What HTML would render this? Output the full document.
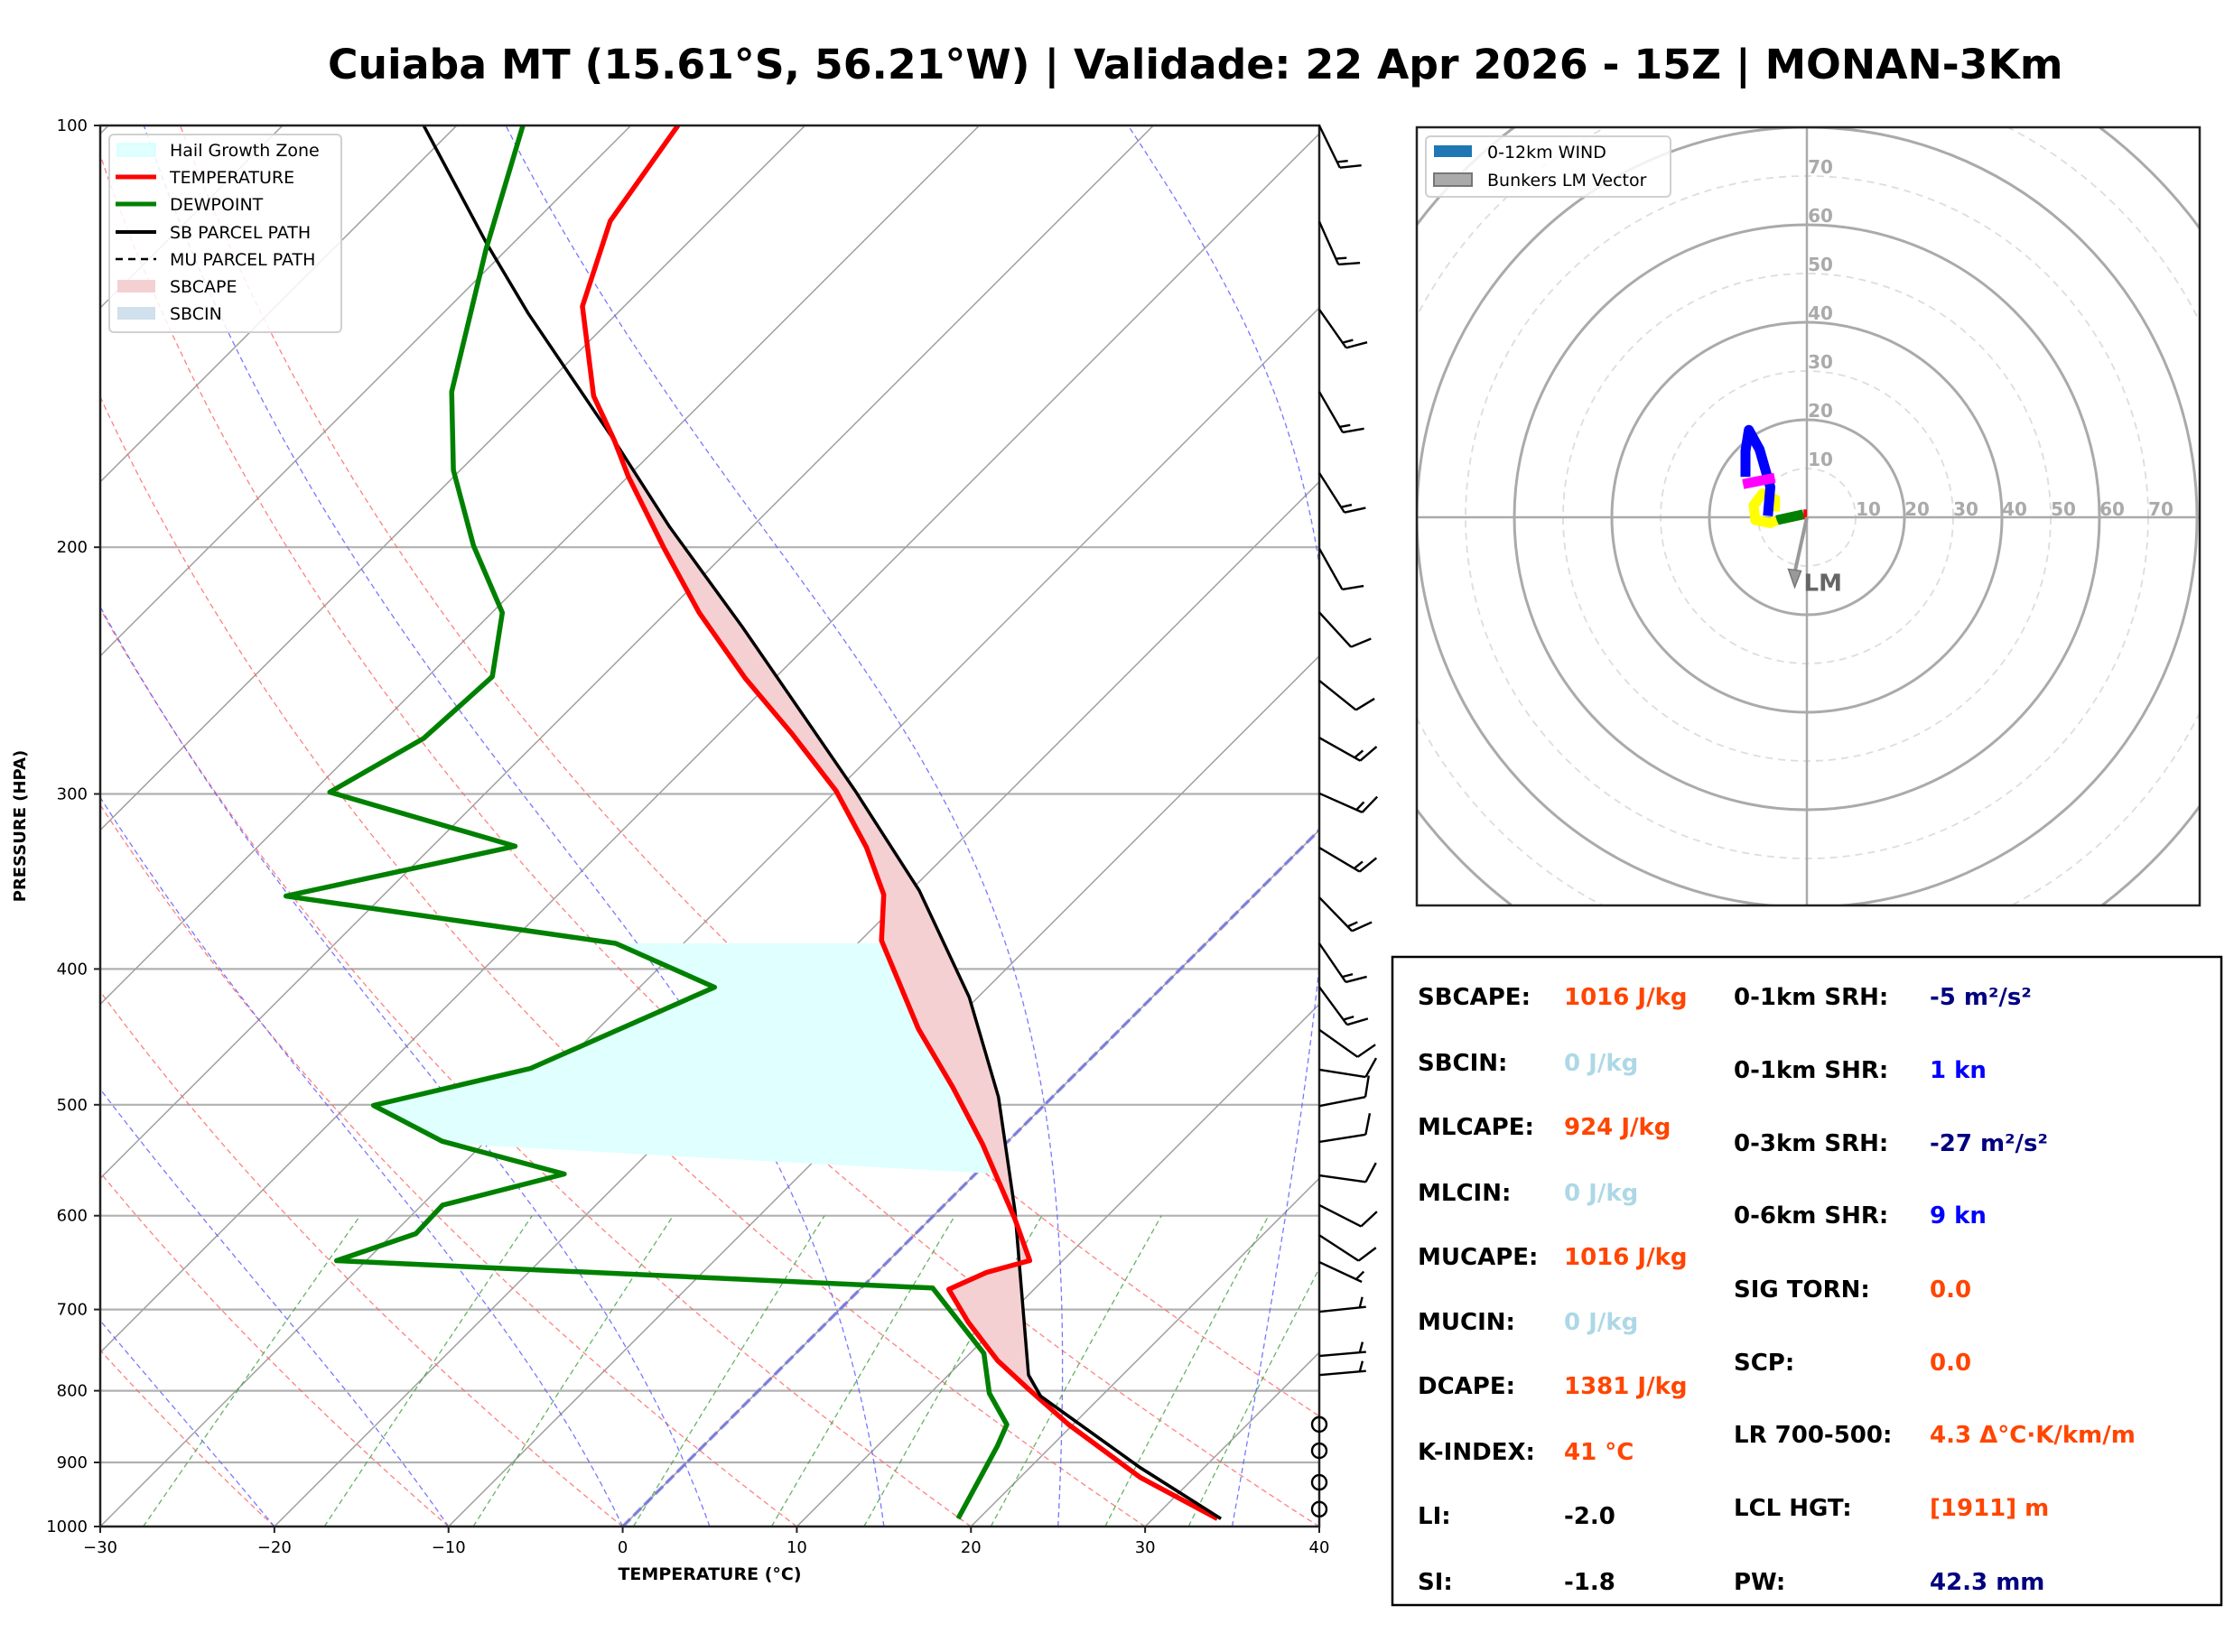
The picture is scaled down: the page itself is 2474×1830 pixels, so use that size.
<!DOCTYPE html>
<html><head><meta charset="utf-8"><style>
html,body{margin:0;padding:0;background:#fff;}
svg{display:block;font-family:"DejaVu Sans","Liberation Sans",sans-serif;}
</style></head><body>
<svg id="root" xmlns="http://www.w3.org/2000/svg" width="2474" height="1830" viewBox="0 0 2474 1830">
<rect x="0" y="0" width="2474" height="1830" fill="#fff"/>
<text x="363" y="87" font-size="45.7" font-weight="bold" fill="#000">Cuiaba MT (15.61°S, 56.21°W) | Validade: 22 Apr 2026 - 15Z | MONAN-3Km</text>
<defs>
<clipPath id="skewclip"><rect x="111" y="139" width="1350" height="1552"/></clipPath>
<clipPath id="hodoclip"><rect x="1569" y="141" width="867" height="862"/></clipPath>
</defs>
<g id="skewt">
<g id="bg" clip-path="url(#skewclip)"></g>
<g id="fills" clip-path="url(#skewclip)"></g>
<g id="profiles" clip-path="url(#skewclip)"></g>
<g id="axes"></g>
<g id="barbs"></g>
</g>
<g id="hodo"></g>
<g id="legend"></g>
<g id="stats"></g>
</svg>
<script>
// ===== Data =====
const tempP = [100,117,134.6,156,168,178,200.4,222.7,248,271.8,298.5,327.6,354,381.7,441.4,485.6,533.4,602.5,645.9,658.6,677.2,714.7,761.3,797.7,845.7,922.5,987.2];
const tempT = [-77.3,-75.7,-72.4,-66.6,-62.8,-60,-53.8,-48.1,-41.7,-35.8,-30,-25,-21.3,-18.8,-11.6,-6.3,-1.3,4.8,8.1,6.3,5.1,8.1,12,15.4,19.75,26.9,33.7];
const dewP = [100,122.6,154.9,176.2,199.5,222.7,247.4,273.7,299.1,326.9,354.8,383.5,412.2,471,500.5,530.9,560.3,589.7,618,646,675.7,752.4,803.3,845.7,876.4,987];
const dewT = [-86.2,-81.2,-75,-70.4,-64.9,-59.4,-56.3,-56.7,-59,-45.25,-55.55,-33.9,-25.7,-31.6,-38.5,-32.5,-23.6,-28.8,-28.7,-31.7,4.1,10.8,13.4,16.2,16.9,18.8];
const parcelP = [100,121.2,136.2,168,193.5,228,262.4,298.5,351.6,419,493.6,595.3,779.5,807,907.4,987.2];
const parcelT = [-91.9,-81.6,-75.1,-62.8,-54.7,-44.8,-36.5,-28.9,-19.5,-10.5,-3.1,4.4,14.6,16.5,26.3,33.9];
const barbP = [100,117.1,135.3,154.9,177,200.4,222.6,249,273.5,299.7,327.7,355.6,383.5,412,442,472,501,531.5,561.6,589.6,619.5,647.5,702.6,755.6,779.6];
const barbAng = [64,66,55,60,57.5,60.7,47.5,38.7,29.4,23.9,30.7,45.8,55.6,53.6,35.4,9,-11,-9,8,27,33,25,-6,-5,-5];
const barbSpd = [15,15,15,15,15,10,10,10,15,15,15,15,15,15,10,10,10,10,10,10,10,5,5,5,5];
const calmP = [845.5,882.9,930,972];
const pTicks = [100,200,300,400,500,600,700,800,900,1000];
const tTicks = [-30,-20,-10,0,10,20,30,40];
// hodograph (kt)
const hodoRedU=[0,-0.7], hodoRedV=[0.6,0.6];
const hodoGreenU=[-0.7,-6.2], hodoGreenV=[0.6,-0.6];
const hodoYellowU=[-6.2,-7.5,-10.6,-10.9,-9.1,-6.5,-6.6], hodoYellowV=[-0.6,-1.2,-0.6,2.5,4.9,3.7,1.2];
const hodoBlueU=[-8.0,-7.5,-9.7,-11.9,-12.6,-12.6], hodoBlueV=[0.3,6.2,13.9,17.9,13.6,8.3];
const hodoMagU=[-13.1,-6.6], hodoMagV=[6.8,8.1];
const lmU=-2.5, lmV=-13.6;
const ringKt=[10,20,30,40,50,60,70,80,90,100];

// ===== Axes functions =====
const X0=111, X1=1461, YB=1691, YT=139, SPAN=YB-YT, PPD=(X1-X0)/70;
function yP(p){return YB-SPAN*Math.log10(1000/p);}
function xTP(T,p){return X0+(T+30)*PPD+(YB-yP(p));}
const NS='http://www.w3.org/2000/svg';
function mk(tag,attrs,parent){const e=document.createElementNS(NS,tag);for(const k in attrs)e.setAttribute(k,attrs[k]);parent.appendChild(e);return e;}
function ptsStr(Ts,Ps){return Ts.map((t,i)=>xTP(t,Ps[i]).toFixed(1)+','+yP(Ps[i]).toFixed(1)).join(' ');}
function interp(P,T,p){for(let i=0;i<P.length-1;i++){if(p>=P[i]&&p<=P[i+1]){const f=Math.log(p/P[i])/Math.log(P[i+1]/P[i]);return T[i]+f*(T[i+1]-T[i]);}}return p<P[0]?T[0]:T[T.length-1];}

const bg=document.getElementById('bg');
pTicks.forEach(p=>{const l=mk('line',{x1:X0,x2:X1,y1:yP(p),y2:yP(p),stroke:'#b0b0b0','stroke-width':2.2},bg);

});
for(let T=-150;T<=40;T+=10){const l=mk('line',{x1:xTP(T,1000),y1:yP(1000),x2:xTP(T,100),y2:yP(100),stroke:'#a0a0a0','stroke-width':1.5},bg);

}
for(let th=-30;th<=50;th+=10){let s=[];for(let p=1000;p>=100;p-=10){const T=(th+273.15)*Math.pow(p/1000,0.286)-273.15;s.push(xTP(T,p).toFixed(1)+','+yP(p).toFixed(1));}
const l=mk('polyline',{points:s.join(' '),fill:'none',stroke:'#ff6060','stroke-width':1.3,'stroke-dasharray':'6,4','stroke-opacity':0.8},bg);

}
[-20,-10,0,5,15,25,35].forEach(T0=>{let T=T0,s=[];for(let p=1000;p>=100;p-=2){s.push(xTP(T,p).toFixed(1)+','+yP(p).toFixed(1));const Tk=T+273.15;const es=6.112*Math.exp(17.67*T/(T+243.5));const rs=0.622*es/(p-es);const dTdp=(287*Tk+2.5e6*rs)/(1005+2.5e6*2.5e6*rs*0.622/(287*Tk*Tk))/p;T-=dTdp*2;}
const l=mk('polyline',{points:s.join(' '),fill:'none',stroke:'#6060ff','stroke-width':1.3,'stroke-dasharray':'6,4','stroke-opacity':0.85},bg);

});
[0.0004,0.001,0.002,0.004,0.007,0.01,0.016,0.024,0.032].forEach(w=>{let s=[];for(let p=1000;p>=600;p-=20){const e=w*p/(0.622+w);const L=Math.log(e/6.112);const Td=243.5*L/(17.67-L);s.push(xTP(Td,p).toFixed(1)+','+yP(p).toFixed(1));}
const l=mk('polyline',{points:s.join(' '),fill:'none',stroke:'#40a040','stroke-width':1.3,'stroke-dasharray':'6,4','stroke-opacity':0.8},bg);

});
{const l=mk('line',{x1:xTP(0,1000),y1:yP(1000),x2:xTP(0,100),y2:yP(100),stroke:'#7070e0','stroke-width':3.5,'stroke-dasharray':'12,5','stroke-opacity':0.8},bg);

}

const fills=document.getElementById('fills');
{
 const pTop=383.5,pDewB=533,pTmpB=560;let s=[];
 s.push(xTP(interp(dewP,dewT,pTop),pTop)+','+yP(pTop));
 dewP.forEach((p,i)=>{if(p>pTop&&p<pDewB)s.push(xTP(dewT[i],p)+','+yP(p));});
 s.push(xTP(interp(dewP,dewT,pDewB),pDewB)+','+yP(pDewB));
 s.push(xTP(interp(tempP,tempT,pTmpB),pTmpB)+','+yP(pTmpB));
 for(let i=tempP.length-1;i>=0;i--){const p=tempP[i];if(p>pTop&&p<pTmpB)s.push(xTP(tempT[i],p)+','+yP(p));}
 s.push(xTP(interp(tempP,tempT,pTop),pTop)+','+yP(pTop));
 const h=mk('polygon',{points:s.join(' '),fill:'#e0ffff'},fills);
 
 
}
{
 const pa=168,pb=800;let s=[];
 for(let p=pa;p<=pb;p+=4)s.push(xTP(interp(parcelP,parcelT,p),p).toFixed(1)+','+yP(p).toFixed(1));
 for(let p=pb;p>=pa;p-=4)s.push(xTP(interp(tempP,tempT,p),p).toFixed(1)+','+yP(p).toFixed(1));
 const c=mk('polygon',{points:s.join(' '),fill:'#f4d0d2'},fills);
 
 
}
const prof=document.getElementById('profiles');
{const l=mk('polyline',{points:ptsStr(parcelT,parcelP),fill:'none',stroke:'#000','stroke-width':3.5,'stroke-linejoin':'round'},prof);

}
{const l=mk('polyline',{points:ptsStr(tempT,tempP),fill:'none',stroke:'#ff0000','stroke-width':5.5,'stroke-linejoin':'round'},prof);

}
{const l=mk('polyline',{points:ptsStr(dewT,dewP),fill:'none',stroke:'#008000','stroke-width':5.5,'stroke-linejoin':'round'},prof);

}
{const l=mk('polyline',{points:ptsStr(parcelT.slice(12),parcelP.slice(12)),fill:'none',stroke:'#000','stroke-width':3.5},prof);

}

const ax=document.getElementById('axes');
{const r=mk('rect',{x:X0,y:YT,width:X1-X0,height:SPAN,fill:'none',stroke:'#222','stroke-width':2.5},ax);

}
pTicks.forEach(p=>{mk('line',{x1:X0-7,x2:X0,y1:yP(p),y2:yP(p),stroke:'#222','stroke-width':2},ax);
const t=mk('text',{x:X0-14,y:yP(p)+6,'font-size':18,'text-anchor':'end',fill:'#000'},ax);t.textContent=p;

});
tTicks.forEach(T=>{const x=X0+(T+30)*PPD;mk('line',{x1:x,x2:x,y1:YB,y2:YB+7,stroke:'#222','stroke-width':2},ax);
const t=mk('text',{x:x,y:YB+29,'font-size':18,'text-anchor':'middle',fill:'#000'},ax);t.textContent=(T<0?'\u2212'+(-T):T);

});
{const t=mk('text',{x:786,y:1750,'font-size':19,'font-weight':'bold','text-anchor':'middle'},ax);t.textContent='TEMPERATURE (°C)';

}
{const t=mk('text',{x:28,y:915,'font-size':18,'font-weight':'bold','text-anchor':'middle',transform:'rotate(-90 28 915)'},ax);t.textContent='PRESSURE (HPA)';

}

const bb=document.getElementById('barbs');
barbP.forEach((p,i)=>{const y=yP(p),x=X1;const a=barbAng[i]*Math.PI/180;const L=52;
const tx=x+L*Math.cos(a),ty=y+L*Math.sin(a);
const g=mk('g',{stroke:'#000','stroke-width':2.4,fill:'none'},bb);


mk('line',{x1:x,y1:y,x2:tx,y2:ty},g);
const b=a-70*Math.PI/180;let s=barbSpd[i],pos=0;
while(s>=10){const bx=tx-pos*Math.cos(a),by=ty-pos*Math.sin(a);mk('line',{x1:bx,y1:by,x2:bx+24*Math.cos(b),y2:by+24*Math.sin(b)},g);s-=10;pos+=7;}
if(s>=5){if(pos===0)pos=7;const bx=tx-pos*Math.cos(a),by=ty-pos*Math.sin(a);mk('line',{x1:bx,y1:by,x2:bx+12*Math.cos(b),y2:by+12*Math.sin(b)},g);}
});
calmP.forEach(p=>{const c=mk('circle',{cx:X1,cy:yP(p),r:8,fill:'none',stroke:'#000','stroke-width':2.4},bb);

});

const lg=document.getElementById('legend');
{const g=mk('g',{},lg);
mk('rect',{x:121,y:149,width:257,height:219,rx:5,fill:'#fff','fill-opacity':0.85,stroke:'#d0d0d0','stroke-width':2},g);
const items=[['Hail Growth Zone','patch','#e0ffff'],['TEMPERATURE','line','#ff0000'],['DEWPOINT','line','#008000'],['SB PARCEL PATH','line','#000'],['MU PARCEL PATH','dash','#000'],['SBCAPE','patch','#f4d0d2'],['SBCIN','patch','#d0e0ec']];
const ys=[166,196,226,257,287,317,347];
items.forEach((it,i)=>{const y=ys[i];
 if(it[1]==='patch')mk('rect',{x:130,y:y-7,width:42,height:14,fill:it[2],stroke:i===0?'#c8ffff':'none'},g);
 else if(it[1]==='line')mk('line',{x1:128,x2:173,y1:y,y2:y,stroke:it[2],'stroke-width':i===3?4:5},g);
 else mk('line',{x1:128,x2:173,y1:y,y2:y,stroke:it[2],'stroke-width':2.5,'stroke-dasharray':'8,6'},g);
 const t=mk('text',{x:188,y:y+7,'font-size':19,fill:'#000'},g);t.textContent=it[0];
 
 });}

const hd=document.getElementById('hodo');
const HX=2001,HY=573,KT=5.4;
function hx(u){return HX+u*KT;} function hy(v){return HY-v*KT;}
{const cg=mk('g',{'clip-path':'url(#hodoclip)'},hd);
mk('rect',{x:1569,y:141,width:867,height:862,fill:'#fff'},cg);
ringKt.forEach(k=>{const c=mk('circle',{cx:HX,cy:HY,r:k*KT,fill:'none',stroke:k%20===0?'#aaaaaa':'#dddddd','stroke-width':k%20===0?3:1.8,'stroke-dasharray':k%20===0?'none':'8,6'},cg);

});
mk('line',{x1:1569,x2:2436,y1:HY,y2:HY,stroke:'#aaa','stroke-width':2.5},cg);
mk('line',{x1:HX,x2:HX,y1:141,y2:1003,stroke:'#aaa','stroke-width':2.5},cg);
[10,20,30,40,50,60,70].forEach(k=>{
 const t1=mk('text',{x:HX+k*KT+14,y:HY-2,'font-size':20,'font-weight':'bold',fill:'#aaaaaa','text-anchor':'middle'},cg);t1.textContent=k;
 
 
 const t2=mk('text',{x:HX+15,y:HY-k*KT-3,'font-size':20,'font-weight':'bold',fill:'#aaaaaa','text-anchor':'middle'},cg);t2.textContent=k;
 
 });
function seg(U,V,col,name){const l=mk('polyline',{points:U.map((u,i)=>hx(u).toFixed(1)+','+hy(V[i]).toFixed(1)).join(' '),fill:'none',stroke:col,'stroke-width':11,'stroke-linejoin':'round'},cg);

}
seg(hodoGreenU,hodoGreenV,'#008000','hodo-segment-0-1km');
seg(hodoRedU,hodoRedV,'#ff0000','hodo-segment-sfc');
seg(hodoYellowU,hodoYellowV,'#ffff00','hodo-segment-yellow');
seg(hodoBlueU,hodoBlueV,'#0000ff','hodo-segment-blue');
seg(hodoMagU,hodoMagV,'#ff00ff','hodo-segment-magenta');
const ax2=hx(lmU),ay2=hy(lmV);
const la=mk('line',{x1:HX,y1:HY,x2:ax2,y2:ay2-12,stroke:'#999','stroke-width':4},cg);


mk('polygon',{points:(ax2-7)+','+(ay2-16)+' '+(ax2+7)+','+(ay2-14)+' '+ax2+','+(ay2+4),fill:'#999',stroke:'#777','stroke-width':1.5},cg);
const lt=mk('text',{x:ax2+10,y:ay2+8,'font-size':26,'font-weight':'bold',fill:'#666'},cg);lt.textContent='LM';


}
{const f=mk('rect',{x:1569,y:141,width:867,height:862,fill:'none',stroke:'#222','stroke-width':2.5},hd);


const g=mk('g',{},hd);
mk('rect',{x:1579,y:151,width:271,height:67,rx:5,fill:'#fff','fill-opacity':0.85,stroke:'#d0d0d0','stroke-width':2},g);
mk('rect',{x:1588,y:161,width:42,height:13,fill:'#1f77b4'},g);
mk('rect',{x:1588,y:192,width:42,height:14,fill:'#aaa',stroke:'#777','stroke-width':2},g);
const t1=mk('text',{x:1647,y:175,'font-size':19},g);t1.textContent='0-12km WIND';


const t2=mk('text',{x:1647,y:206,'font-size':19},g);t2.textContent='Bunkers LM Vector';

}

const st=document.getElementById('stats');
mk('rect',{x:1542,y:1060,width:918,height:718,fill:'#fff',stroke:'#000','stroke-width':2.5},st);
const leftRows=[['SBCAPE:','1016 J/kg','#ff4500'],['SBCIN:','0 J/kg','#add8e6'],['MLCAPE:','924 J/kg','#ff4500'],['MLCIN:','0 J/kg','#add8e6'],['MUCAPE:','1016 J/kg','#ff4500'],['MUCIN:','0 J/kg','#add8e6'],['DCAPE:','1381 J/kg','#ff4500'],['K-INDEX:','41 °C','#ff4500'],['LI:','-2.0','#000'],['SI:','-1.8','#000']];
const leftY=[1104,1177,1248,1321,1392,1464,1535,1608,1679,1752];
const rightRows=[['0-1km SRH:','-5 m²/s²','#000080'],['0-1km SHR:','1 kn','#0000ff'],['0-3km SRH:','-27 m²/s²','#000080'],['0-6km SHR:','9 kn','#0000ff'],['SIG TORN:','0.0','#ff4500'],['SCP:','0.0','#ff4500'],['LR 700-500:','4.3 Δ°C·K/km/m','#ff4500'],['LCL HGT:','[1911] m','#ff4500'],['PW:','42.3 mm','#000080']];
const rightY=[1104,1185,1266,1346,1428,1509,1589,1670,1752];
function row(lbl,val,col,xl,xv,y){const a=mk('text',{x:xl,y:y+9,'font-size':26,'font-weight':'bold',fill:'#000'},st);a.textContent=lbl;


const b=mk('text',{x:xv,y:y+9,'font-size':26,'font-weight':'bold',fill:col},st);b.textContent=val;

}
leftRows.forEach((r,i)=>row(r[0],r[1],r[2],1570,1732,leftY[i]));
rightRows.forEach((r,i)=>row(r[0],r[1],r[2],1920,2137,rightY[i]));
</script>
</body></html>
